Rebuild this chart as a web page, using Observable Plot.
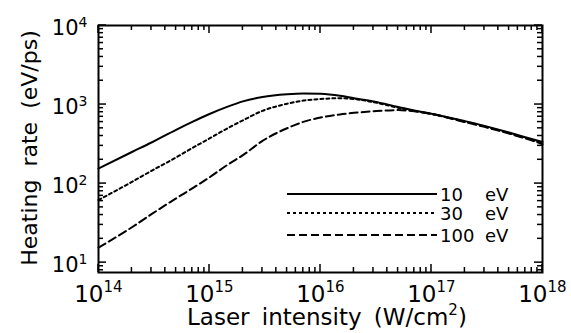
<!DOCTYPE html>
<html><head><meta charset="utf-8">
<script src="https://cdn.jsdelivr.net/npm/d3@7"></script>
<script src="https://cdn.jsdelivr.net/npm/@observablehq/plot@0.6"></script>
<style>
body{margin:0;background:#fff;}
#chart{width:571px;height:333px;}
svg text{white-space:pre;}
</style></head><body><div id="chart"></div>
<script>
// Laser intensity (W/cm^2)
const intensity = [1e14, 2e14, 3e14, 5e14, 7e14, 1e15, 1.5e15, 2e15, 3e15, 5e15, 7e15, 1e16, 1.5e16, 2e16, 3e16, 5e16, 7e16, 1e17, 2e17, 3e17, 5e17, 7e17, 1e18];
// Heating rate (eV/ps)
const rate10eV  = [155, 251, 331, 479, 603, 759, 955, 1096, 1245, 1349, 1380, 1365, 1288, 1202, 1096, 933, 841, 767, 617, 537, 442, 385, 335];
const rate30eV  = [62, 105, 145, 214, 282, 372, 513, 631, 832, 1023, 1122, 1175, 1202, 1175, 1072, 912, 832, 759, 607, 528, 434, 378, 324];
const rate100eV = [15.5, 28, 41, 65, 87, 120, 178, 229, 347, 501, 603, 684, 750, 785, 822, 851, 822, 759, 600, 522, 429, 373, 316];
const seriesLabels = ["10 eV", "30 eV", "100 eV"];
const xMajor = [1e14, 1e15, 1e16, 1e17, 1e18];
const xExponents = ["14", "15", "16", "17", "18"];
const yMajor = [1e1, 1e2, 1e3, 1e4];
const yExponents = ["1", "2", "3", "4"];
const xTitle = ["Laser intensity (W/cm", "2", ")"];
const yTitle = "Heating rate (eV/ps)";

const xMinor = [], yMinor = [];
for (let e = 14; e < 18; e++) for (let m = 2; m <= 9; m++) xMinor.push(m * 10 ** e);
for (let e = 0; e < 4; e++) for (let m = 2; m <= 9; m++) { const v = m * 10 ** e; if (v >= 7.5) yMinor.push(v); }

const W = 571, H = 333, mL = 98, mR = 29, mT = 25, mB = 61;
const dashes = [null, "3,3", "8,4"];
const series = [rate10eV, rate30eV, rate100eV];

const lineMarks = series.map((s, i) => Plot.line(intensity.map((x, j) => ({x, y: s[j]})),
  {x: d => d.x, y: d => d.y, stroke: "black", strokeWidth: 2, strokeDasharray: dashes[i] || undefined, curve: "monotone-x"}));

const plot = Plot.plot({
  width: W, height: H, marginLeft: mL, marginRight: mR, marginTop: mT, marginBottom: mB,
  x: {type: "log", domain: [1e14, 1e18], axis: null, label: null},
  y: {type: "log", domain: [7.5, 1e4], axis: null, label: null},
  style: {fontFamily: "DejaVu Sans", background: "white", color: "black"},
  marks: [
    ...lineMarks,
    Plot.frame({stroke: "black", strokeWidth: 2}),
    Plot.text(xMajor, {x: d => d, frameAnchor: "bottom", text: () => "10", textAnchor: "end", lineAnchor: "bottom", dx: 5, dy: 29, fontSize: 23}),
    Plot.text(xMajor, {x: d => d, frameAnchor: "bottom", text: (d, i) => xExponents[i], textAnchor: "start", lineAnchor: "bottom", dx: 5, dy: 19, fontSize: 15}),
    Plot.text(yMajor, {y: d => d, frameAnchor: "left", text: () => "10", textAnchor: "end", lineAnchor: "bottom", dx: -20, dy: 9, fontSize: 21}),
    Plot.text(yMajor, {y: d => d, frameAnchor: "left", text: (d, i) => yExponents[i], textAnchor: "start", lineAnchor: "bottom", dx: -20, dy: 1, fontSize: 14})
  ]
});

const svg = d3.select(plot);
// inward ticks on all four sides, placed with Plot's own scales
const sx = plot.scale("x"), sy = plot.scale("y");
const fLeft = mL, fRight = W - mR, fTop = mT, fBottom = H - mB;
const tg = svg.append("g").attr("stroke", "black").attr("stroke-width", 1.5).attr("fill", "none");
const drawTicksX = (vals, len) => vals.forEach(v => {
  const px = sx.apply(v);
  tg.append("line").attr("x1", px).attr("x2", px).attr("y1", fBottom).attr("y2", fBottom - len);
  tg.append("line").attr("x1", px).attr("x2", px).attr("y1", fTop).attr("y2", fTop + len);
});
const drawTicksY = (vals, len) => vals.forEach(v => {
  const py = sy.apply(v);
  tg.append("line").attr("y1", py).attr("y2", py).attr("x1", fLeft).attr("x2", fLeft + len);
  tg.append("line").attr("y1", py).attr("y2", py).attr("x1", fRight).attr("x2", fRight - len);
});
drawTicksX(xMajor, 8); drawTicksX(xMinor, 5); drawTicksY(yMajor, 8); drawTicksY(yMinor, 5);

// axis titles
const xt = svg.append("text").attr("x", 187).attr("y", 325).attr("text-anchor", "start")
  .attr("font-size", 23).attr("word-spacing", "5px").attr("fill", "black");
xt.append("tspan").text(xTitle[0]);
xt.append("tspan").attr("font-size", 15).attr("dy", -10).text(xTitle[1]);
xt.append("tspan").attr("dy", 10).text(xTitle[2]);
svg.append("text").attr("transform", "translate(37,148) rotate(-90)").attr("text-anchor", "middle")
  .attr("font-size", 22).attr("word-spacing", "6px").attr("fill", "black").text(yTitle);

// legend
const legendY = [194, 213, 235];
const leg = svg.append("g").attr("font-size", 18).attr("fill", "black").attr("text-anchor", "start");
seriesLabels.forEach((lab, i) => {
  const ln = leg.append("line").attr("x1", 287).attr("x2", 437).attr("y1", legendY[i]).attr("y2", legendY[i])
    .attr("stroke", "black").attr("stroke-width", 2);
  if (dashes[i]) ln.attr("stroke-dasharray", dashes[i]);
  const [num, unit] = lab.split(" ");
  leg.append("text").attr("x", 440).attr("y", legendY[i] + 6.5).text(num);
  leg.append("text").attr("x", 485).attr("y", legendY[i] + 6.5).text(unit);
});

document.getElementById("chart").appendChild(plot);
</script>
</body></html>
